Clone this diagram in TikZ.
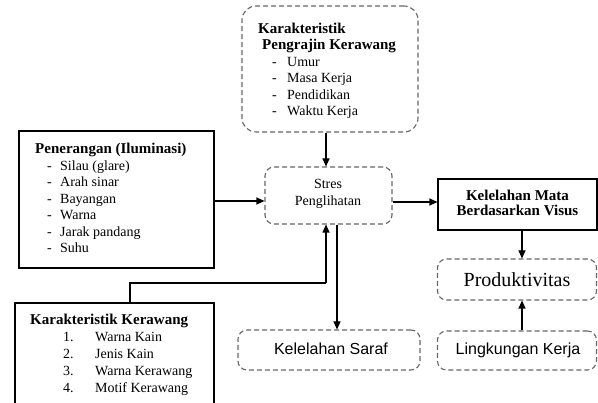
\documentclass[tikz,border=0pt]{standalone}
\usepackage{fontspec}
\setmainfont{Liberation Serif}
\newfontfamily\arialf{Liberation Sans}
\usetikzlibrary{arrows.meta}
\begin{document}
\begin{tikzpicture}[x=1pt,y=-1pt,
  solidbox/.style={draw=black,line width=1.1pt,inner sep=0pt},
  dashbox/.style={draw=black!60,line width=1.1pt,dash pattern=on 5pt off 3pt,rounded corners=9pt,inner sep=0pt},
  arr/.style={line width=1.1pt,-{Triangle[length=8pt,width=7pt]}},
  plain/.style={line width=1.1pt},
  txt/.style={inner sep=0pt,align=left,anchor=base west},
  itm/.style={font=\fontsize{14}{16.5}\selectfont}]
\useasboundingbox (0,0) rectangle (598,403);
% boxes
\node[dashbox,rounded corners=14pt,minimum width=176pt,minimum height=126pt] (top) at (330,69) {};
\node[solidbox,minimum width=195pt,minimum height=137pt] (pen) at (116.5,199.5) {};
\node[dashbox,minimum width=127pt,minimum height=57pt] (stres) at (328.5,195.5) {};
\node[dashbox,minimum width=182pt,minimum height=40pt] (saraf) at (329,350) {};
\node[solidbox,minimum width=199pt,minimum height=106pt] (ker) at (114.5,356) {};
\node[solidbox,minimum width=159pt,minimum height=51pt] (mata) at (517.5,204.5) {};
\node[dashbox,minimum width=159pt,minimum height=41pt] (prod) at (517,279.5) {};
\node[dashbox,minimum width=159pt,minimum height=39pt] (ling) at (517,350.5) {};
% texts (anchor is the baseline of the last line)
\node[txt,itm] (toptxt) at (258,116) {\textbf{\fontsize{15}{16}\selectfont Karakteristik}\\[-0.5pt]
  \hspace*{4pt}\textbf{\fontsize{15}{16}\selectfont Pengrajin Kerawang}\\
  \hspace*{14pt}\makebox[15pt][l]{-}Umur\\
  \hspace*{14pt}\makebox[15pt][l]{-}Masa Kerja\\
  \hspace*{14pt}\makebox[15pt][l]{-}Pendidikan\\
  \hspace*{14pt}\makebox[15pt][l]{-}Waktu Kerja};
\node[txt,itm] (pentxt) at (35,253) {\textbf{\fontsize{15}{16}\selectfont Penerangan (Iluminasi)}\\
  \hspace*{12pt}\makebox[13pt][l]{-}Silau (glare)\\
  \hspace*{12pt}\makebox[13pt][l]{-}Arah sinar\\
  \hspace*{12pt}\makebox[13pt][l]{-}Bayangan\\
  \hspace*{12pt}\makebox[13pt][l]{-}Warna\\
  \hspace*{12pt}\makebox[13pt][l]{-}Jarak pandang\\
  \hspace*{12pt}\makebox[13pt][l]{-}Suhu};
\node[txt,font=\fontsize{14}{17}\selectfont] (kertxt) at (30,393) {\textbf{\fontsize{15}{16}\selectfont Karakteristik Kerawang}\\
  \hspace*{33pt}\makebox[32pt][l]{1.}Warna Kain\\
  \hspace*{33pt}\makebox[32pt][l]{2.}Jenis Kain\\
  \hspace*{33pt}\makebox[32pt][l]{3.}Warna Kerawang\\
  \hspace*{33pt}\makebox[32pt][l]{4.}Motif Kerawang};
\node[inner sep=0pt,align=center,font=\fontsize{14}{17}\selectfont] (strestxt) at (328,194) {Stres\\Penglihatan};
\node[inner sep=0pt,align=center,font=\bfseries\fontsize{15}{15.5}\selectfont] (matatxt) at (517.5,203) {Kelelahan Mata\\Berdasarkan Visus};
\node[inner sep=0pt,font=\fontsize{20}{22}\selectfont] (prodtxt) at (517,280) {Produktivitas};
\node[inner sep=0pt,font=\arialf\fontsize{16}{18}\selectfont] (saraftxt) at (331,349) {Kelelahan Saraf};
\node[inner sep=0pt,font=\arialf\fontsize{16}{18}\selectfont] (lingtxt) at (518,350) {Lingkungan Kerja};
% connectors
\draw[arr] (top.south -| 326,0) -- (stres.north -| 326,0);
\draw[arr] (pen.east |- 0,201) -- (stres.west |- 0,201);
\draw[arr] (stres.east |- 0,202) -- (mata.west |- 0,202);
\draw[arr] (stres.south -| 337,0) -- (saraf.north -| 337,0);
\coordinate (bend) at (326,283);
\draw[plain] (ker.north -| 130,0) |- (bend);
\draw[arr] (bend) -- (stres.south -| bend);
\draw[arr] (mata.south -| 522,0) -- (prod.north -| 522,0);
\draw[arr] (ling.north -| 522,0) -- (prod.south -| 522,0);
\end{tikzpicture}
\end{document}
